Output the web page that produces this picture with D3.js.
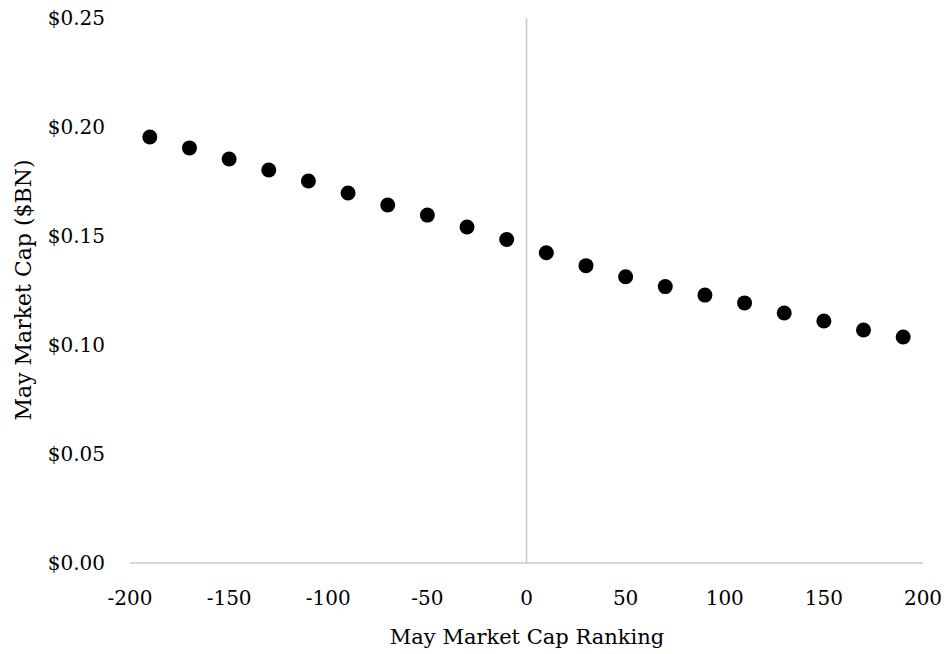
<!DOCTYPE html>
<html lang="en">
<head>
    <meta charset="UTF-8">
    <title>May Market Cap</title>
    <style>
        body { margin: 0; background: #fff; }
        svg text { font-family: "DejaVu Serif", serif; fill: #000; }
    </style>
</head>
<body>
    <div id="graphic"></div>

    <script src="https://cdn.jsdelivr.net/npm/d3@7"></script>
    <script>
        // ranking (x) and market cap in $BN (y)
        var ranking = [-190, -170, -150, -130, -110, -90, -70, -50, -30, -10,
                       10, 30, 50, 70, 90, 110, 130, 150, 170, 190];
        var marketCap = [0.1954, 0.1904, 0.1853, 0.1803, 0.1752, 0.1697, 0.1642, 0.1596, 0.1541, 0.1484,
                         0.1423, 0.1364, 0.1313, 0.1268, 0.1229, 0.1193, 0.1147, 0.1110, 0.1069, 0.1037];
        var xTicks = [-200, -150, -100, -50, 0, 50, 100, 150, 200];
        var yTicks = [0, 0.05, 0.10, 0.15, 0.20, 0.25];

        var width = 949;
        var height = 654;

        var x = d3.scaleLinear().domain([-200, 200]).range([130, 923]);
        var y = d3.scaleLinear().domain([0, 0.25]).range([563, 18]);

        var svg = d3.select('#graphic')
            .append('svg')
            .attr('width', width)
            .attr('height', height);

        // axis lines (gray)
        svg.append('line')
            .attr('x1', x(-200)).attr('x2', x(200))
            .attr('y1', y(0)).attr('y2', y(0))
            .attr('stroke', '#c8c8c8').attr('stroke-width', 1.5);
        svg.append('line')
            .attr('x1', x(0)).attr('x2', x(0))
            .attr('y1', y(0.25)).attr('y2', y(0))
            .attr('stroke', '#c8c8c8').attr('stroke-width', 1.5);

        // tick labels
        svg.selectAll('.ytick')
            .data(yTicks)
            .join('text')
            .attr('class', 'ytick')
            .attr('x', 105)
            .attr('y', function(d) { return y(d); })
            .attr('dy', '0.36em')
            .attr('text-anchor', 'end')
            .style('font-size', '20px')
            .text(function(d) { return '$' + d3.format('.2f')(d); });

        svg.selectAll('.xtick')
            .data(xTicks)
            .join('text')
            .attr('class', 'xtick')
            .attr('x', function(d) { return x(d); })
            .attr('y', 605)
            .attr('text-anchor', 'middle')
            .style('font-size', '20px')
            .text(function(d) { return d; });

        // axis titles
        svg.append('text')
            .attr('x', 527)
            .attr('y', 644)
            .attr('text-anchor', 'middle')
            .style('font-size', '21px')
            .text('May Market Cap Ranking');

        svg.append('text')
            .attr('transform', 'translate(31,' + 290 + ') rotate(-90)')
            .attr('text-anchor', 'middle')
            .style('font-size', '22px')
            .text('May Market Cap ($BN)');

        // points
        svg.selectAll('.dot')
            .data(ranking)
            .join('circle')
            .attr('class', 'dot')
            .attr('cx', function(d) { return x(d); })
            .attr('cy', function(d, i) { return y(marketCap[i]); })
            .attr('r', 7.5)
            .attr('fill', '#000');
    </script>
</body>
</html>
